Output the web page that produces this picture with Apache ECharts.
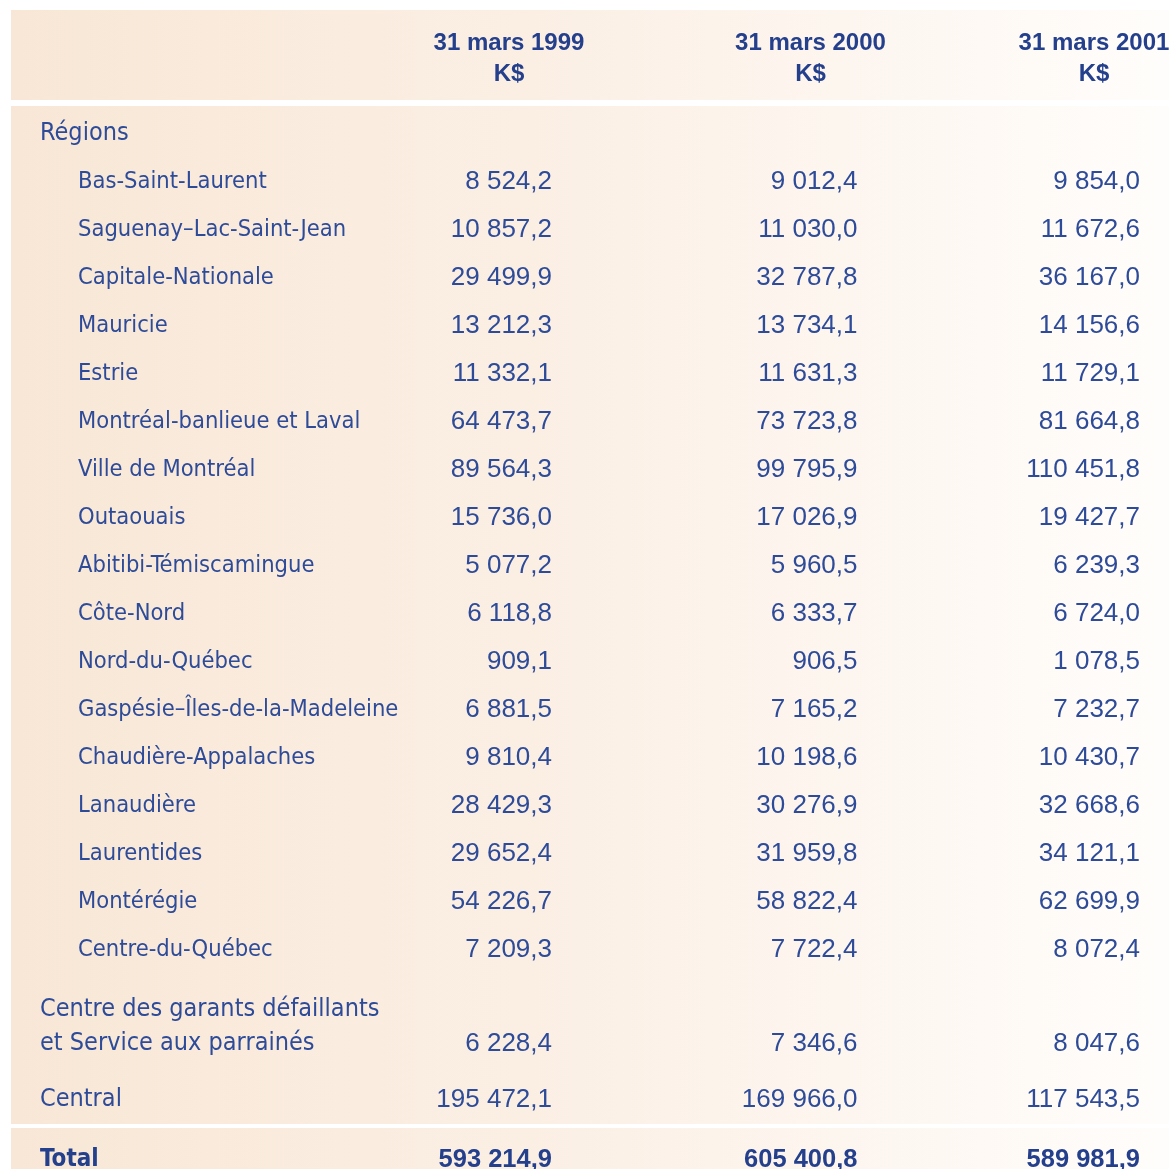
<!DOCTYPE html>
<html><head><meta charset="utf-8">
<script src="https://cdn.jsdelivr.net/npm/echarts@6/dist/echarts.min.js"></script>
<style>html,body{margin:0;padding:0;background:#fff}#c{width:1169px;height:1169px}</style>
</head><body><div id="c"></div>
<script>
// ---- data ----
const years = ['31 mars 1999', '31 mars 2000', '31 mars 2001'];
const unit = 'K$';
const sectionTitle = 'Régions';
const regions = ['Bas-Saint-Laurent','Saguenay–Lac-Saint-Jean','Capitale-Nationale','Mauricie','Estrie',
  'Montréal-banlieue et Laval','Ville de Montréal','Outaouais','Abitibi-Témiscamingue','Côte-Nord',
  'Nord-du-Québec','Gaspésie–Îles-de-la-Madeleine','Chaudière-Appalaches','Lanaudière','Laurentides',
  'Montérégie','Centre-du-Québec'];
const regions1999 = [8524.2,10857.2,29499.9,13212.3,11332.1,64473.7,89564.3,15736.0,5077.2,6118.8,909.1,6881.5,9810.4,28429.3,29652.4,54226.7,7209.3];
const regions2000 = [9012.4,11030.0,32787.8,13734.1,11631.3,73723.8,99795.9,17026.9,5960.5,6333.7,906.5,7165.2,10198.6,30276.9,31959.8,58822.4,7722.4];
const regions2001 = [9854.0,11672.6,36167.0,14156.6,11729.1,81664.8,110451.8,19427.7,6239.3,6724.0,1078.5,7232.7,10430.7,32668.6,34121.1,62699.9,8072.4];
const others = ['Centre des garants défaillants\net Service aux parrainés','Central'];
const others1999 = [6228.4,195472.1];
const others2000 = [7346.6,169966.0];
const others2001 = [8047.6,117543.5];
const totalLabel = ['Total'];
const total1999 = [593214.9];
const total2000 = [605400.8];
const total2001 = [589981.9];

// ---- styles ----
const BLUE = '#2d4b98';
const BOLD = '#243f8c';
const LABEL_FONT = '"DejaVu Sans Condensed","DejaVu Sans",sans-serif';
const NUM_FONT = '"Liberation Sans",Arial,sans-serif';
const HEAD_SHIFT = [0, 9, 0];
const NUM_SHIFT = [-3, 10, 0];

function fmt(v){
  const p = v.toFixed(1).split('.');
  return p[0].replace(/\B(?=(\d{3})+(?!\d))/g,' ') + ',' + p[1];
}

const GL = 509, GR = 1169 - 1094;

function headRich(){
  const r = {};
  HEAD_SHIFT.forEach((s, i) => {
    r['b' + i] = {fontFamily:NUM_FONT, fontWeight:'bold', fontSize:24, color:BOLD, lineHeight:31,
      align:'center', padding:[0,0,0,2*s]};
  });
  return r;
}
function xAxisFor(idx, show){
  return {type:'value', gridIndex:idx, min:0, max:2, interval:1, position:'top',
    axisLine:{show:false}, axisTick:{show:false}, splitLine:{show:false},
    axisLabel:{show:show, margin:20, showMinLabel:true, showMaxLabel:true,
      formatter:v => '{b' + v + '|' + years[v] + '}\n{b' + v + '|' + unit + '}',
      rich:headRich()}};
}
function yAxisFor(idx, cats, styler){
  return {type:'category', gridIndex:idx, data:cats, inverse:true,
    axisLine:{show:false}, axisTick:{show:false}, splitLine:{show:false},
    axisLabel:{align:'left', margin:GL - 40, interval:0,
      formatter:(v, i) => styler(v, i),
      rich:{
        h:{fontFamily:LABEL_FONT, fontSize:25, color:BLUE, lineHeight:34},
        r:{fontFamily:LABEL_FONT, fontSize:23.5, color:BLUE, padding:[0,0,0,38]},
        t:{fontFamily:LABEL_FONT, fontSize:24, fontWeight:'bold', color:BOLD}
      }}};
}
function seriesFor(idx, cols, bold, skipFirst){
  const out = [];
  cols.forEach((arr, c) => {
    out.push({type:'scatter', xAxisIndex:idx, yAxisIndex:idx, symbolSize:0, silent:true,
      itemStyle:{opacity:1},
      data: arr.map((v, i) => [c, i + (skipFirst ? 1 : 0), v]),
      label:{show:true, position:'inside', align:'right', verticalAlign:'middle',
        offset:[46 + NUM_SHIFT[c], 0], opacity:1,
        formatter:p => fmt(p.value[2]),
        fontFamily:NUM_FONT, fontSize:bold ? 25.5 : 26, fontWeight:bold ? 'bold' : 'normal',
        color:bold ? BOLD : BLUE}});
  });
  return out;
}

const bandFill = new echarts.graphic.LinearGradient(0,0,1,0,[
  {offset:0,color:'#f8e7d6'},{offset:0.45,color:'#fbefe4'},{offset:1,color:'#fffdfb'}]);

const chart = echarts.init(document.getElementById('c'), null, {renderer:'canvas'});
chart.setOption({
  animation:false,
  backgroundColor:'#ffffff',
  graphic:[
    {type:'rect', shape:{x:11,y:10,width:1158,height:90}, style:{fill:bandFill}, z:-10},
    {type:'rect', shape:{x:11,y:106,width:1158,height:1018}, style:{fill:bandFill}, z:-10},
    {type:'rect', shape:{x:11,y:1128,width:1158,height:41}, style:{fill:bandFill}, z:-10}
  ],
  grid:[
    {left:GL, right:GR, top:109.5, height:18*48, outerBoundsMode:'none', containLabel:false},
    {left:GL, right:GR, top:990, height:146, outerBoundsMode:'none', containLabel:false},
    {left:GL, right:GR, top:1136, height:48, outerBoundsMode:'none', containLabel:false}
  ],
  xAxis:[xAxisFor(0,true), xAxisFor(1,false), xAxisFor(2,false)],
  yAxis:[
    yAxisFor(0, [sectionTitle].concat(regions), (v,i) => i === 0 ? '{h|' + v + '}' : '{r|' + v + '}'),
    yAxisFor(1, others, v => v.split('\n').map(s => '{h|' + s + '}').join('\n')),
    yAxisFor(2, totalLabel, v => '{t|' + v + '}')
  ],
  series: [].concat(
    seriesFor(0, [regions1999, regions2000, regions2001], false, true),
    seriesFor(1, [others1999, others2000, others2001], false, false).map(s => {
      s.label.formatter = p => (p.value[1] === 0 ? '\n' : '') + fmt(p.value[2]);
      s.label.lineHeight = 34; return s; }),
    seriesFor(2, [total1999, total2000, total2001], true, false)
  )
});
</script></body></html>
